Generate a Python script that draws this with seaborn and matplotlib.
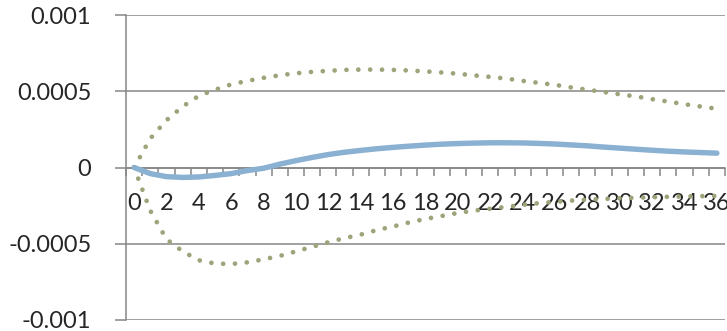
import numpy as np
import pandas as pd
import matplotlib
matplotlib.use("Agg")
import matplotlib.pyplot as plt
import seaborn as sns

periods = list(range(37))
response = [0, -0.00004, -0.00006, -0.000065, -0.000062, -0.000052, -0.00004, -0.00002,
            -0.000005, 0.000022, 0.000045, 0.000066, 0.000085, 0.0001, 0.000112, 0.000123,
            0.000132, 0.00014, 0.000147, 0.000153, 0.000157, 0.00016, 0.000162, 0.000162,
            0.000161, 0.000158, 0.000154, 0.000148, 0.000142, 0.000134, 0.000127, 0.00012,
            0.000113, 0.000107, 0.000102, 0.000098, 0.000094]
upper = [0, 0.00019, 0.00031, 0.0004, 0.00047, 0.00051, 0.000545, 0.000568, 0.000588,
         0.000605, 0.000618, 0.000627, 0.000634, 0.00064, 0.000642, 0.000642, 0.00064,
         0.000636, 0.00063, 0.000623, 0.000615, 0.000604, 0.000594, 0.000583, 0.000568,
         0.000555, 0.000542, 0.000525, 0.00051, 0.000495, 0.00048, 0.000466, 0.000448,
         0.000432, 0.000415, 0.0004, 0.000385]
lower = [0, -0.000283, -0.00047, -0.00055, -0.000608, -0.00063, -0.000633, -0.000622,
         -0.000602, -0.00058, -0.00055, -0.00052, -0.00049, -0.000463, -0.00044, -0.00041,
         -0.000387, -0.00036, -0.000337, -0.000318, -0.000298, -0.000283, -0.00027,
         -0.000258, -0.000245, -0.000234, -0.000225, -0.000217, -0.00021, -0.000206,
         -0.000202, -0.000198, -0.000195, -0.000192, -0.00019, -0.000188, -0.000187]
y_ticks = [-0.001, -0.0005, 0, 0.0005, 0.001]
y_tick_labels = ["-0.001", "-0.0005", "0", "0.0005", "0.001"]
x_tick_values = list(range(0, 37, 2))

sns.set_theme(style="white")
plt.rcParams['font.family'] = ['Lato', 'DejaVu Sans']

df = pd.DataFrame({"period": periods, "response": response, "upper": upper, "lower": lower})

fig = plt.figure(figsize=(7.27, 3.31), dpi=100)
ax = fig.add_axes([126/727, 11/331, 599/727, 305/331])

grid_col = "#868686"
dot_col = "#9FA37A"
line_col = "#8AB0D2"

for yv in y_ticks:
    ax.axhline(yv, color=grid_col, lw=1.1, zorder=0.5)

dot_style = (0, (0.01, 2.5))
sns.lineplot(data=df, x="period", y="upper", ax=ax, color=dot_col, lw=3.4,
             linestyle=dot_style, dash_capstyle="round", zorder=2)
sns.lineplot(data=df, x="period", y="lower", ax=ax, color=dot_col, lw=3.4,
             linestyle=dot_style, dash_capstyle="round", zorder=2)
sns.lineplot(data=df, x="period", y="response", ax=ax, color=line_col, lw=3.9,
             solid_capstyle="round", zorder=3)

ax.set_xlim(-0.5, 36.5)
ax.set_ylim(-0.001, 0.001)
ax.set_xlabel("")
ax.set_ylabel("")

for s in ["top", "right"]:
    ax.spines[s].set_visible(False)
ax.spines["left"].set_color(grid_col)
ax.spines["left"].set_linewidth(1.1)
ax.spines["bottom"].set_position(("data", 0))
ax.spines["bottom"].set_color(grid_col)
ax.spines["bottom"].set_linewidth(1.1)

ax.set_yticks(y_ticks)
ax.set_yticklabels(y_tick_labels)
ax.tick_params(axis="y", which="major", direction="out", length=8, width=1.1,
               color=grid_col, labelsize=17, pad=17, left=True)

ax.set_xticks(x_tick_values)
ax.set_xticklabels([str(v) for v in x_tick_values])
ax.set_xticks(np.arange(-0.5, 37, 1.0), minor=True)
ax.tick_params(axis="x", which="major", length=0, labelsize=17, pad=18, bottom=True)
ax.tick_params(axis="x", which="minor", direction="out", length=6, width=1.1,
               color=grid_col, bottom=True)
for lab in ax.get_xticklabels():
    lab.set_zorder(1)

fig.savefig("out.png", dpi=100)
